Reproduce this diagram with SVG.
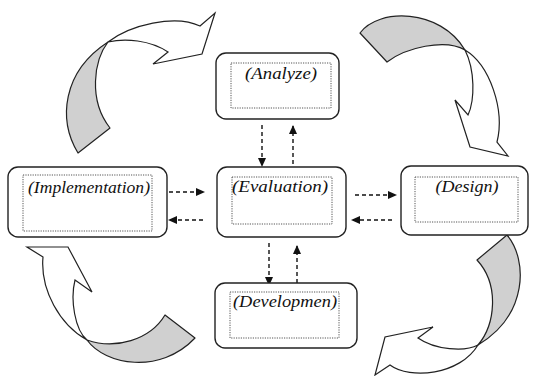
<svg xmlns="http://www.w3.org/2000/svg" width="533" height="376" viewBox="0 0 533 376">
<style>
.box{fill:#fff;stroke:#222;stroke-width:1.4}
.inner{fill:none;stroke:#555;stroke-width:1;stroke-dasharray:1.2 1.2}
.lbl{font-family:"Liberation Serif",serif;font-style:italic;font-size:17px;fill:#111;text-anchor:middle}
.dash{stroke:#111;stroke-width:1.4;stroke-dasharray:4 3;fill:none;marker-end:url(#ah)}
.gray{fill:#d0d0d0;stroke:#222;stroke-width:1.2;stroke-linejoin:round}
.white{fill:#fff;stroke:#222;stroke-width:1.2;stroke-linejoin:miter}
</style>
<defs>
<marker id="ah" markerWidth="9" markerHeight="8" refX="8" refY="4" orient="auto" markerUnits="userSpaceOnUse">
<path d="M0,0 L9,4 L0,8 Z" fill="#111"/>
</marker>
</defs>
<rect width="533" height="376" fill="#fff"/>

<g id="curved-arrows">
<g id="arrow-top-left">
<path class="gray" d="M78,153 C58,120 62,72 108,42 C94,60 88,100 110,128 Z"/>
<path class="white" d="M108,42 C130,25 175,14 200,26 L215,13 L202,54 L153,64 L168,52 C150,40 125,38 108,42 Z"/>
</g>
<g id="arrow-top-right">
<path class="gray" d="M360,33 C378,8 440,8 465,50 C445,38 405,48 387,62 Z"/>
<path class="white" d="M465,50 C490,65 505,110 497,142 L508,156 L470,147 L455,100 L468,115 C475,100 475,70 465,50 Z"/>
</g>
<g id="arrow-bottom-left">
<path class="white" d="M43,257 L27,247 L68,247 L92,292 L75,280 C70,300 75,330 87,340 C60,325 40,290 43,257 Z"/>
<path class="gray" d="M87,340 C105,365 160,375 195,338 L165,315 C150,340 115,350 87,340 Z"/>
</g>
<g id="arrow-bottom-right">
<path class="gray" d="M477,260 L507,235 C528,260 528,315 478,345 C495,325 500,285 477,260 Z"/>
<path class="white" d="M478,345 C460,375 410,380 390,365 L375,375 L385,337 L433,327 L418,338 C435,350 465,352 478,345 Z"/>
</g>
</g>

<g id="connectors">
<line class="dash" x1="262" y1="125" x2="262" y2="166"/>
<line class="dash" x1="293" y1="164" x2="293" y2="126"/>
<line class="dash" x1="169" y1="192" x2="204" y2="192"/>
<line class="dash" x1="203" y1="220" x2="169" y2="220"/>
<line class="dash" x1="355" y1="195" x2="396" y2="195"/>
<line class="dash" x1="392" y1="220" x2="352" y2="220"/>
<line class="dash" x1="269" y1="243" x2="269" y2="285"/>
<line class="dash" x1="297" y1="283" x2="297" y2="246"/>
</g>

<g id="analyze">
<rect class="box" x="216" y="53" width="123" height="66" rx="10"/>
<rect class="inner" x="231" y="63" width="100" height="45"/>
<text class="lbl" x="281" y="79" textLength="72" lengthAdjust="spacingAndGlyphs">(Analyze)</text>
</g>
<g id="implementation">
<rect class="box" x="8" y="167" width="159" height="70" rx="10"/>
<rect class="inner" x="23" y="175" width="129" height="56"/>
<text class="lbl" x="89" y="193" textLength="122" lengthAdjust="spacingAndGlyphs">(Implementation)</text>
</g>
<g id="evaluation">
<rect class="box" x="217" y="167" width="129" height="70" rx="10"/>
<rect class="inner" x="232" y="177" width="100" height="47"/>
<text class="lbl" x="280" y="192" textLength="96" lengthAdjust="spacingAndGlyphs">(Evaluation)</text>
</g>
<g id="design">
<rect class="box" x="401" y="166" width="127" height="69" rx="10"/>
<rect class="inner" x="415" y="177" width="103" height="45"/>
<text class="lbl" x="467" y="192" textLength="63" lengthAdjust="spacingAndGlyphs">(Design)</text>
</g>
<g id="development">
<rect class="box" x="215" y="283" width="142" height="65" rx="10"/>
<rect class="inner" x="230" y="292" width="109" height="46"/>
<text class="lbl" x="285" y="307" textLength="104" lengthAdjust="spacingAndGlyphs">(Developmen)</text>
</g>
</svg>
